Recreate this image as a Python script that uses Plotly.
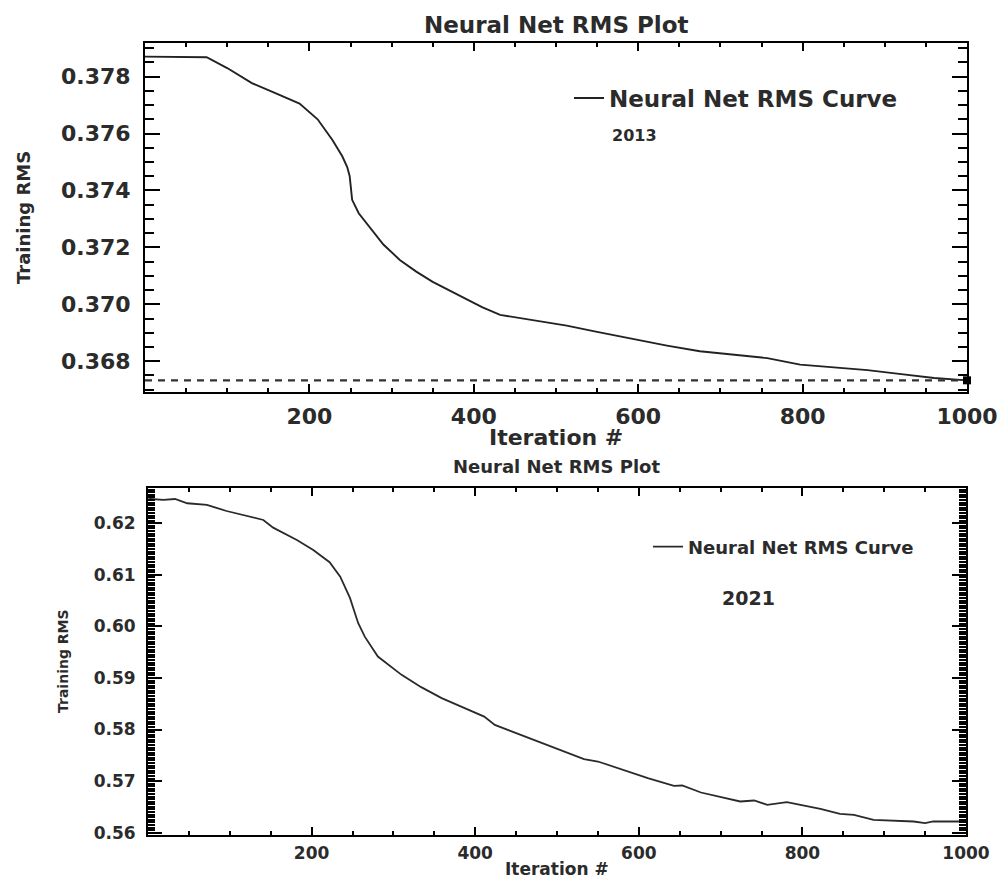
import plotly.graph_objects as go

# ---------------- data ----------------
iter_2013 = [0, 75, 100, 130, 160, 188, 210, 228, 240, 246, 249, 251, 252, 260, 269,
             290, 310, 330, 350, 380, 410, 432, 470, 513, 550, 594, 635, 675, 720,
             757, 797, 840, 879, 920, 960, 1000]
rms_2013 = [0.37870, 0.37868, 0.37830, 0.37777, 0.37740, 0.37705, 0.37650, 0.37577,
            0.37520, 0.37482, 0.37450, 0.37391, 0.37367, 0.37320, 0.37286, 0.37210,
            0.37156, 0.37115, 0.37079, 0.37035, 0.36990, 0.36963, 0.36945, 0.36925,
            0.36903, 0.36878, 0.36855, 0.36835, 0.36822, 0.36811, 0.36788, 0.36777,
            0.36769, 0.36755, 0.36741, 0.36733]

iter_2021 = [0, 3, 19, 33, 48, 72, 96, 121, 141, 153, 182, 202, 222, 235, 247, 253,
             257, 265, 281, 310, 334, 359, 387, 411, 424, 456, 497, 533, 550, 578,
             598, 611, 643, 653, 676, 700, 724, 741, 757, 781, 806, 822, 846, 863,
             887, 911, 936, 950, 960, 984, 1000]
rms_2021 = [0.62465, 0.62471, 0.62452, 0.62471, 0.62388, 0.62355, 0.62238, 0.62147,
            0.62064, 0.61915, 0.61676, 0.61483, 0.61244, 0.60965, 0.60547, 0.60256,
            0.60062, 0.59802, 0.59415, 0.59060, 0.58822, 0.58609, 0.58415, 0.58252,
            0.58091, 0.57897, 0.57640, 0.57426, 0.57380, 0.57233, 0.57122, 0.57058,
            0.56909, 0.56915, 0.56779, 0.56690, 0.56605, 0.56624, 0.56541, 0.56593,
            0.56508, 0.56463, 0.56366, 0.56347, 0.56250, 0.56231, 0.56217, 0.56186,
            0.56217, 0.56217, 0.56217]

x_ticks = [200, 400, 600, 800, 1000]
y_ticks_2013 = [0.368, 0.370, 0.372, 0.374, 0.376, 0.378]
y_tick_text_2013 = ["0.368", "0.370", "0.372", "0.374", "0.376", "0.378"]
y_ticks_2021 = [0.56, 0.57, 0.58, 0.59, 0.60, 0.61, 0.62]
y_tick_text_2021 = ["0.56", "0.57", "0.58", "0.59", "0.60", "0.61", "0.62"]

title_text = "Neural Net RMS Plot"
curve_name = "Neural Net RMS Curve"
x_title = "Iteration #"
y_title = "Training RMS"

W, H = 1001, 878
FONT = "DejaVu Sans"
INK = "#2b2b2b"

def px_x(p):
    return p / W

def px_y(p):
    return 1 - p / H

fig = go.Figure()

fig.add_trace(go.Scatter(
    x=iter_2013, y=rms_2013, mode="lines", name=curve_name,
    line=dict(color="#222222", width=1.9), xaxis="x", yaxis="y", legend="legend"))
fig.add_trace(go.Scatter(
    x=[iter_2013[0], iter_2013[-1]], y=[rms_2013[-1], rms_2013[-1]], mode="lines",
    line=dict(color="#333333", width=2.2, dash="7px,6px"), showlegend=False,
    xaxis="x", yaxis="y"))
fig.add_trace(go.Scatter(
    x=[iter_2013[-1]], y=[rms_2013[-1]], mode="markers", cliponaxis=False,
    marker=dict(symbol="square", size=8, color="black"), showlegend=False,
    xaxis="x", yaxis="y"))
fig.add_trace(go.Scatter(
    x=iter_2021, y=rms_2021, mode="lines", name=curve_name,
    line=dict(color="#2a2a2a", width=1.8), xaxis="x2", yaxis="y2", legend="legend2"))

axis_common = dict(showline=True, linecolor="black", mirror="ticks", showgrid=False,
                   zeroline=False, ticks="inside", tickcolor="black", automargin=False)

fig.update_layout(
    width=W, height=H, margin=dict(l=0, r=0, t=0, b=0),
    paper_bgcolor="white", plot_bgcolor="white",
    font=dict(family=FONT, color=INK),
    xaxis=dict(**axis_common, domain=[px_x(145), px_x(967)], range=[0, 1000],
               anchor="y", tickvals=x_ticks, ticklen=8, tickwidth=1.5, linewidth=2,
               ticklabelstandoff=4,
               minor=dict(ticks="inside", dtick=50, tick0=0, ticklen=4, tickcolor="black"),
               tickfont=dict(size=22, family=FONT, weight="bold", color=INK)),
    yaxis=dict(**axis_common, domain=[px_y(392), px_y(43)], range=[0.36692, 0.37918],
               anchor="x", tickvals=y_ticks_2013, ticktext=y_tick_text_2013,
               ticklen=15, tickwidth=1.5, linewidth=2, ticklabelstandoff=8,
               minor=dict(ticks="inside", dtick=0.0005, tick0=0.368, ticklen=9, tickcolor="black"),
               tickfont=dict(size=22, family=FONT, weight="bold", color=INK)),
    xaxis2=dict(**axis_common, domain=[px_x(148), px_x(966)], range=[0, 1000],
                anchor="y2", tickvals=x_ticks, ticklen=8, tickwidth=1.5, linewidth=2,
                ticklabelstandoff=2,
                minor=dict(ticks="inside", dtick=50, tick0=0, ticklen=4, tickcolor="black"),
                tickfont=dict(size=17, family=FONT, weight="bold", color=INK)),
    yaxis2=dict(**axis_common, domain=[px_y(835), px_y(488)], range=[0.55955, 0.62684],
                anchor="x2", tickvals=y_ticks_2021, ticktext=y_tick_text_2021,
                ticklen=14, tickwidth=1.5, linewidth=2, ticklabelstandoff=7,
                minor=dict(ticks="inside", dtick=0.0005, tick0=0.56, ticklen=7, tickcolor="black"),
                tickfont=dict(size=17, family=FONT, weight="bold", color=INK)),
    legend=dict(x=px_x(569), y=px_y(98), xanchor="left", yanchor="middle",
                bgcolor="rgba(0,0,0,0)", borderwidth=0,
                font=dict(size=23, family=FONT, weight="bold", color=INK)),
    legend2=dict(x=px_x(648), y=px_y(547), xanchor="left", yanchor="middle",
                 bgcolor="rgba(0,0,0,0)", borderwidth=0,
                 font=dict(size=18, family=FONT, weight="bold", color=INK)),
    annotations=[
        dict(text=title_text, x=px_x(556), y=px_y(25), xref="paper", yref="paper",
             showarrow=False, xanchor="center", yanchor="middle",
             font=dict(size=23, family=FONT, weight="bold", color=INK)),
        dict(text=title_text, x=px_x(556), y=px_y(466), xref="paper", yref="paper",
             showarrow=False, xanchor="center", yanchor="middle",
             font=dict(size=18, family=FONT, weight="bold", color=INK)),
        dict(text=x_title, x=px_x(556), y=px_y(437), xref="paper", yref="paper",
             showarrow=False, xanchor="center", yanchor="middle",
             font=dict(size=22, family=FONT, weight="bold", color=INK)),
        dict(text=x_title, x=px_x(557), y=px_y(869), xref="paper", yref="paper",
             showarrow=False, xanchor="center", yanchor="middle",
             font=dict(size=17, family=FONT, weight="bold", color=INK)),
        dict(text=y_title, x=px_x(24), y=px_y(218), xref="paper", yref="paper",
             showarrow=False, xanchor="center", yanchor="middle", textangle=-90,
             font=dict(size=18, family=FONT, weight="bold", color=INK)),
        dict(text=y_title, x=px_x(63), y=px_y(661), xref="paper", yref="paper",
             showarrow=False, xanchor="center", yanchor="middle", textangle=-90,
             font=dict(size=14, family=FONT, weight="bold", color=INK)),
        dict(text="2013", x=px_x(634), y=px_y(135), xref="paper", yref="paper",
             showarrow=False, xanchor="center", yanchor="middle",
             font=dict(size=16, family=FONT, weight="bold", color=INK)),
        dict(text="2021", x=px_x(748), y=px_y(598), xref="paper", yref="paper",
             showarrow=False, xanchor="center", yanchor="middle",
             font=dict(size=19, family=FONT, weight="bold", color=INK)),
    ],
)

fig.write_html("out.html")
